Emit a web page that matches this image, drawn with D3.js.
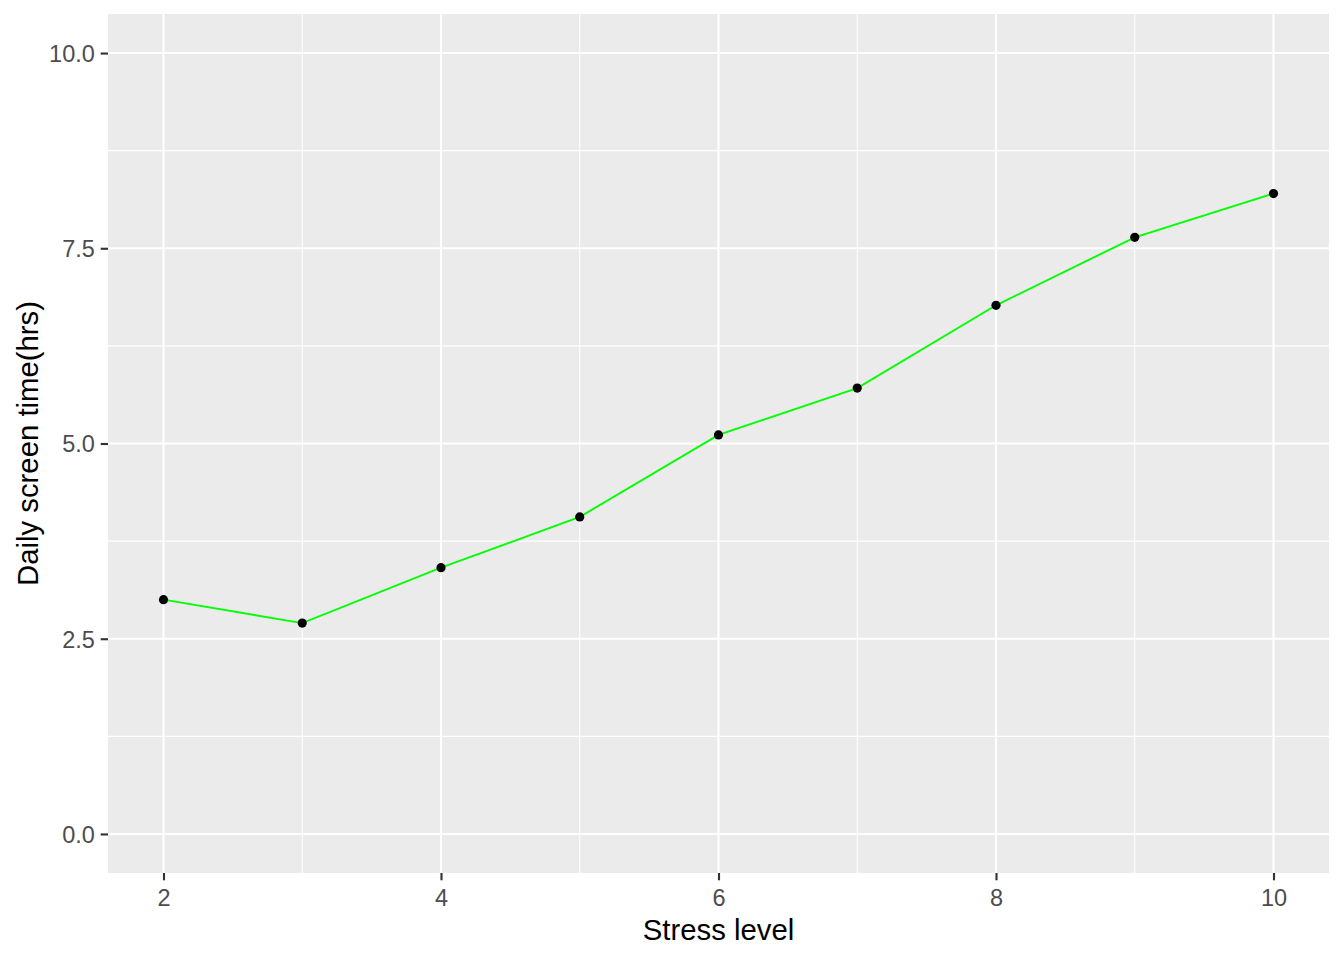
<!DOCTYPE html>
<html>
<head>
<meta charset="utf-8">
<script src="https://cdn.jsdelivr.net/npm/d3@7"></script>
<style>
  html, body { margin: 0; padding: 0; background: #fff; }
  svg { display: block; }
  text { font-family: "Liberation Sans", Arial, sans-serif; }
</style>
</head>
<body>
<svg id="chart" width="1344" height="960"></svg>
<script>
// Data
const stressLevels = [2, 3, 4, 5, 6, 7, 8, 9, 10];
const screenTime = [3.00, 2.70, 3.41, 4.06, 5.11, 5.71, 6.77, 7.64, 8.20];
const xTicks = [2, 4, 6, 8, 10];
const xMinor = [3, 5, 7, 9];
const yTicks = [0, 2.5, 5, 7.5, 10];
const yMinor = [1.25, 3.75, 6.25, 8.75];
const xTitle = "Stress level";
const yTitle = "Daily screen time(hrs)";

const svg = d3.select("#chart");
const panel = { left: 108, top: 14, right: 1329, bottom: 873 };

const x = d3.scaleLinear().domain([1.6, 10.4]).range([panel.left, panel.right]);
const y = d3.scaleLinear().domain([-0.5, 10.5]).range([panel.bottom, panel.top]);

// Panel background
svg.append("rect")
  .attr("x", panel.left).attr("y", panel.top)
  .attr("width", panel.right - panel.left)
  .attr("height", panel.bottom - panel.top)
  .attr("fill", "#EBEBEB");

const grid = svg.append("g");
// minor grid
grid.selectAll(".ymin").data(yMinor).enter().append("line")
  .attr("x1", panel.left).attr("x2", panel.right)
  .attr("y1", d => y(d)).attr("y2", d => y(d))
  .attr("stroke", "#fff").attr("stroke-width", 1.07);
grid.selectAll(".xmin").data(xMinor).enter().append("line")
  .attr("y1", panel.top).attr("y2", panel.bottom)
  .attr("x1", d => x(d)).attr("x2", d => x(d))
  .attr("stroke", "#fff").attr("stroke-width", 1.07);
// major grid
grid.selectAll(".ymaj").data(yTicks).enter().append("line")
  .attr("x1", panel.left).attr("x2", panel.right)
  .attr("y1", d => y(d)).attr("y2", d => y(d))
  .attr("stroke", "#fff").attr("stroke-width", 2.13);
grid.selectAll(".xmaj").data(xTicks).enter().append("line")
  .attr("y1", panel.top).attr("y2", panel.bottom)
  .attr("x1", d => x(d)).attr("x2", d => x(d))
  .attr("stroke", "#fff").attr("stroke-width", 2.13);

// Axes
const xAxis = d3.axisBottom(x).tickValues(xTicks).tickSize(7.3).tickPadding(8).tickFormat(d3.format("d"));
const yAxis = d3.axisLeft(y).tickValues(yTicks).tickSize(7.3).tickPadding(5.9).tickFormat(d3.format(".1f"));

const gx = svg.append("g").attr("transform", `translate(0,${panel.bottom})`).call(xAxis);
const gy = svg.append("g").attr("transform", `translate(${panel.left},0)`).call(yAxis);
[gx, gy].forEach(g => {
  g.select(".domain").remove();
  g.selectAll(".tick line").attr("stroke", "#333333").attr("stroke-width", 2.13);
  g.selectAll(".tick text")
    .attr("fill", "#4D4D4D")
    .style("font-size", "23.5px")
    .style("font-family", "'Liberation Sans', Arial, sans-serif");
});
gy.selectAll(".tick text").attr("dy", "0.36em");
gx.selectAll(".tick text").attr("dy", "0.76em");

// Line
const line = d3.line()
  .x((d, i) => x(stressLevels[i]))
  .y(d => y(d));
svg.append("path")
  .datum(screenTime)
  .attr("d", line)
  .attr("fill", "none")
  .attr("stroke", "#00FF00")
  .attr("stroke-width", 1.9);

// Points
svg.selectAll(".pt").data(screenTime).enter().append("circle")
  .attr("cx", (d, i) => x(stressLevels[i]))
  .attr("cy", d => y(d))
  .attr("r", 4.6)
  .attr("fill", "#000");

// Titles
svg.append("text")
  .attr("x", (panel.left + panel.right) / 2)
  .attr("y", 940)
  .attr("text-anchor", "middle")
  .attr("fill", "#000")
  .style("font-size", "29.3px")
  .text(xTitle);

svg.append("text")
  .attr("transform", `translate(38,${(panel.top + panel.bottom) / 2}) rotate(-90)`)
  .attr("text-anchor", "middle")
  .attr("fill", "#000")
  .style("font-size", "29.3px")
  .text(yTitle);
</script>
</body>
</html>
